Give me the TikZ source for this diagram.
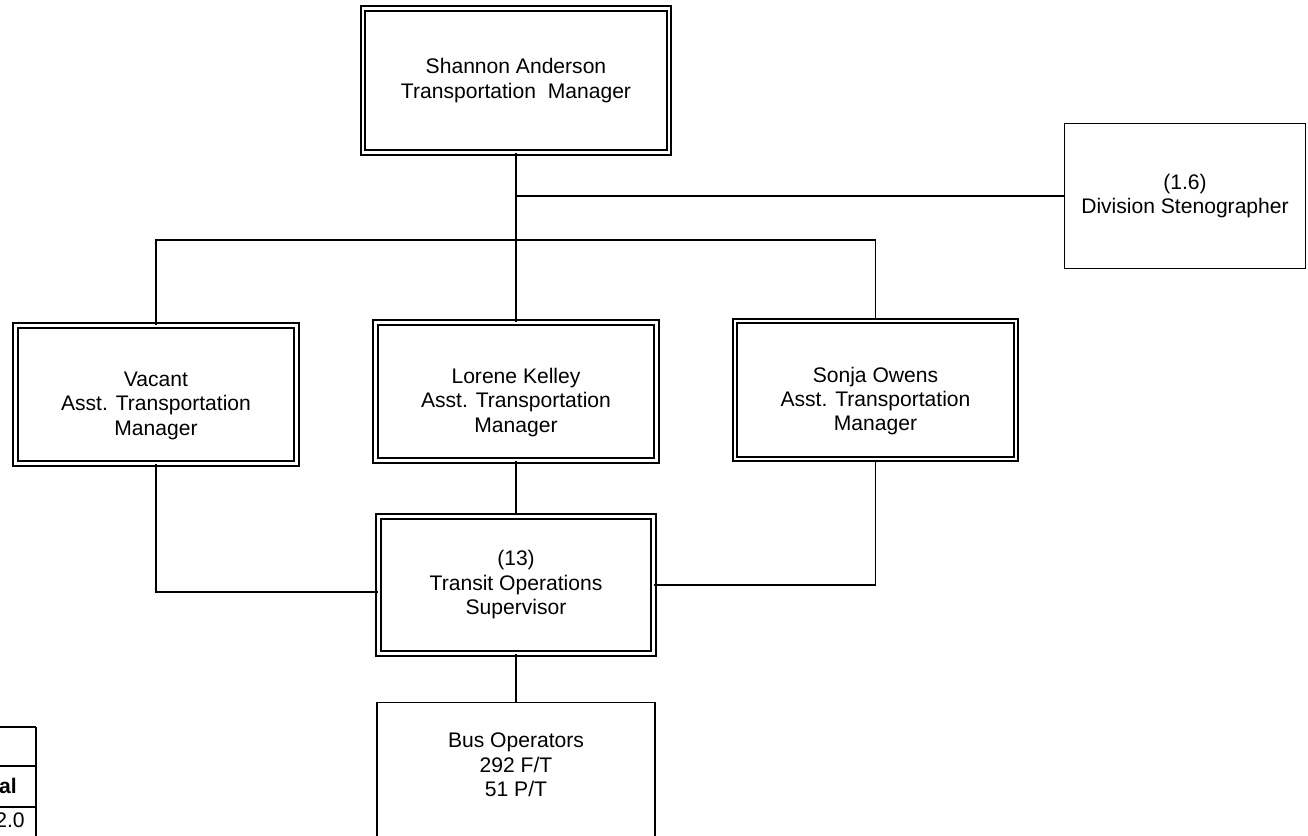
\documentclass[tikz,border=0pt]{standalone}
\usepackage{fontspec}
\setmainfont{Liberation Sans}
\usetikzlibrary{positioning}

\begin{document}
\begin{tikzpicture}[
    x=0.02cm, y=-0.02cm,
    font=\fontsize{12pt}{13.9pt}\selectfont,
    node distance=1cm,
    box/.style={draw, line width=0.85pt, align=center, inner sep=0pt},
    dblbox/.style={box, double, double distance=1.6pt, line width=1.1pt},
    asst/.style={dblbox, minimum width=5.62cm, minimum height=2.76cm, text height=49pt},
    link/.style={line width=0.85pt},
    rule/.style={line width=0.85pt}
]
\useasboundingbox (0,0) rectangle (1308,835);

\node[dblbox, minimum width=6.12cm, minimum height=2.88cm] (boss) at (516,80.5) {Shannon Anderson\\Transportation~~Manager};
\node[box, minimum width=4.82cm, minimum height=2.9cm] (steno) at (1185,196) {(1.6)\\Division Stenographer};

\node[asst] (vacant) at (156,394.5) {Vacant\\Asst. Transportation\\Manager};
\node[asst] (kelley) at (516,391.5) {Lorene Kelley\\Asst. Transportation\\Manager};
\node[asst] (owens) at (875.5,390) {Sonja Owens\\Asst. Transportation\\Manager};

\node[dblbox, minimum width=5.5cm, minimum height=2.74cm, below=1.08cm of kelley] (tos) {(13)\\Transit Operations\\Supervisor};
\node[box, minimum width=5.56cm, minimum height=2.9cm, text depth=11.6pt, below=0.95cm of tos] (bus) {Bus Operators\\292 F/T\\51 P/T};

\coordinate (stenotap) at (516,196);
\coordinate (split) at (516,240);

\draw[link] (boss) -- (split);
\draw[link] (stenotap) -- (steno);
\draw[link] (vacant.north) |- (split) -| (owens.north);
\draw[link] (split) -- (kelley);
\draw[link] (vacant.south) |- ([yshift=-0.14cm]tos.west);
\draw[link] (owens.south) |- (tos.east);
\draw[link] (kelley) -- (tos);
\draw[link] (tos) -- (bus);

% table cut off at the lower left
\draw[rule] (0,727) -- (36,727) (0,766) -- (36,766) (0,807) -- (36,807);
\draw[rule, line width=1.4pt] (36,727) -- (36,840);
\node[anchor=base east, inner sep=0pt, font=\fontsize{12pt}{13.9pt}\selectfont\bfseries] (totlabel) at (17,793) {Total};
\node[anchor=base east, inner sep=0pt] (totvalue) at (25,827) {12.0};
\end{tikzpicture}
\end{document}
